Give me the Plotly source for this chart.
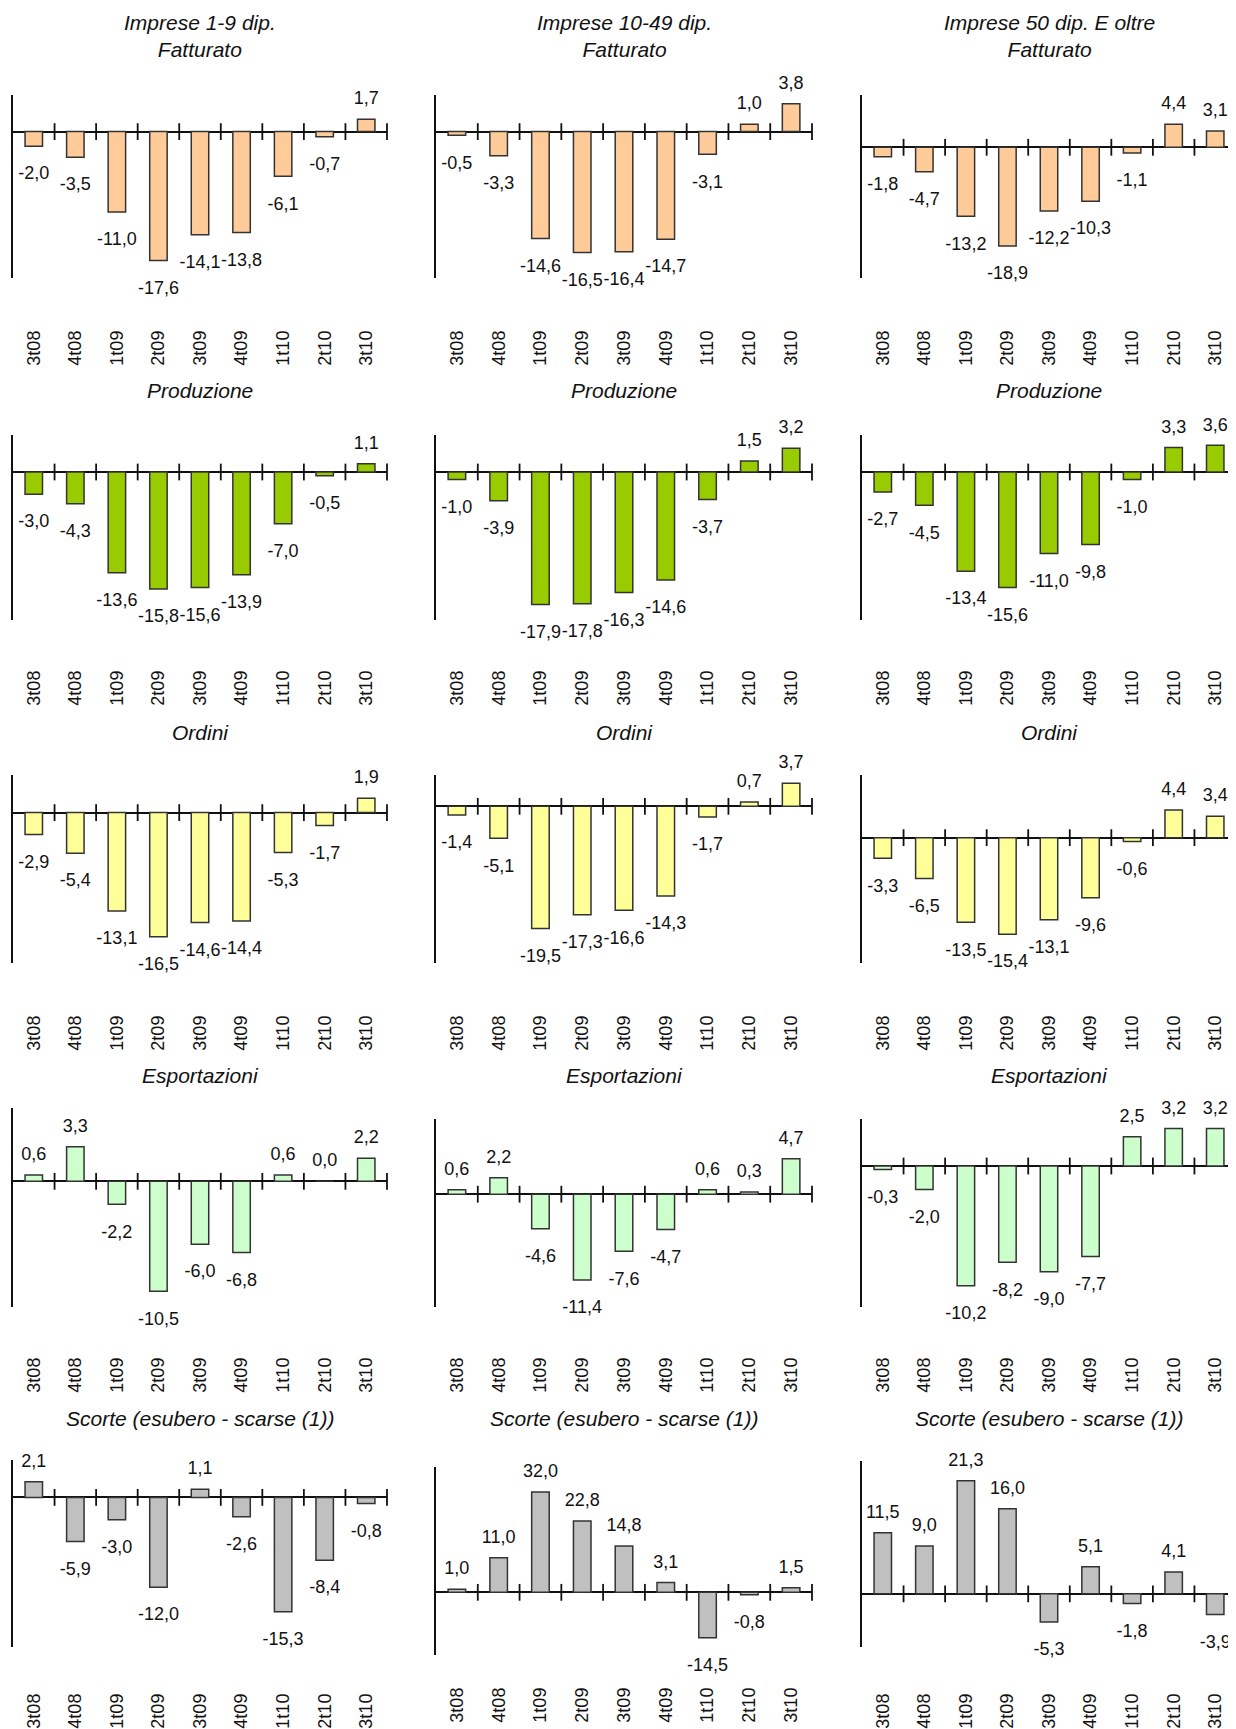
import plotly.graph_objects as go

# page is 1236x1729; browser body margin offsets the figure by 8px
OFF = 8
W, H = 1236 - OFF, 1729 - OFF

categories = ["3t08", "4t08", "1t09", "2t09", "3t09", "4t09", "1t10", "2t10", "3t10"]

group_titles = ["Imprese 1-9 dip.", "Imprese 10-49 dip.", "Imprese 50 dip. E oltre"]
row_titles = ["Fatturato", "Produzione", "Ordini", "Esportazioni", "Scorte (esubero - scarse (1))"]

fatturato_1_9 = [-2.0, -3.5, -11.0, -17.6, -14.1, -13.8, -6.1, -0.7, 1.7]
fatturato_10_49 = [-0.5, -3.3, -14.6, -16.5, -16.4, -14.7, -3.1, 1.0, 3.8]
fatturato_50 = [-1.8, -4.7, -13.2, -18.9, -12.2, -10.3, -1.1, 4.4, 3.1]

produzione_1_9 = [-3.0, -4.3, -13.6, -15.8, -15.6, -13.9, -7.0, -0.5, 1.1]
produzione_10_49 = [-1.0, -3.9, -17.9, -17.8, -16.3, -14.6, -3.7, 1.5, 3.2]
produzione_50 = [-2.7, -4.5, -13.4, -15.6, -11.0, -9.8, -1.0, 3.3, 3.6]

ordini_1_9 = [-2.9, -5.4, -13.1, -16.5, -14.6, -14.4, -5.3, -1.7, 1.9]
ordini_10_49 = [-1.4, -5.1, -19.5, -17.3, -16.6, -14.3, -1.7, 0.7, 3.7]
ordini_50 = [-3.3, -6.5, -13.5, -15.4, -13.1, -9.6, -0.6, 4.4, 3.4]

esportazioni_1_9 = [0.6, 3.3, -2.2, -10.5, -6.0, -6.8, 0.6, 0.0, 2.2]
esportazioni_10_49 = [0.6, 2.2, -4.6, -11.4, -7.6, -4.7, 0.6, 0.3, 4.7]
esportazioni_50 = [-0.3, -2.0, -10.2, -8.2, -9.0, -7.7, 2.5, 3.2, 3.2]

scorte_1_9 = [2.1, -5.9, -3.0, -12.0, 1.1, -2.6, -15.3, -8.4, -0.8]
scorte_10_49 = [1.0, 11.0, 32.0, 22.8, 14.8, 3.1, -14.5, -0.8, 1.5]
scorte_50 = [11.5, 9.0, 21.3, 16.0, -5.3, 5.1, -1.8, 4.1, -3.9]

rows_data = [
    [fatturato_1_9, fatturato_10_49, fatturato_50],
    [produzione_1_9, produzione_10_49, produzione_50],
    [ordini_1_9, ordini_10_49, ordini_50],
    [esportazioni_1_9, esportazioni_10_49, esportazioni_50],
    [scorte_1_9, scorte_10_49, scorte_50],
]

# y-axis ranges per panel
y_ranges = [
    [[-20, 5], [-20, 5], [-25, 10]],
    [[-20, 5], [-20, 5], [-20, 5]],
    [[-20, 5], [-25, 5], [-20, 10]],
    [[-12, 7], [-15, 10], [-12, 4]],
    [[-20, 5], [-20, 40], [-10, 25]],
]

# ---- styling / layout (page pixel positions) ----
row_colors = ["#FFCC99", "#99CC00", "#FFFF99", "#CCFFCC", "#C0C0C0"]
col_x = [(13, 387), (436, 812), (862, 1237)]
panel_y = [
    [(95, 278), (95, 278), (95, 278)],
    [(435, 620), (435, 620), (435, 620)],
    [(775, 963), (775, 963), (775, 963)],
    [(1108, 1307), (1119, 1307), (1119, 1307)],
    [(1460, 1647), (1467, 1655), (1461, 1647)],
]
label_top = [
    [328, 328, 328],
    [668, 668, 668],
    [1013, 1013, 1013],
    [1355, 1355, 1355],
    [1691, 1685, 1691],
]
title_y = [36, 390, 732, 1075, 1418]

FONT = "Liberation Sans, Arial, sans-serif"
NEG_PAD = 30   # invisible marker size used to push labels away from bar ends
POS_PAD = 15


def px_x(p):
    return min(max((p - OFF) / W, 0.0), 1.0)


def px_y(p):
    return min(max(1 - (p - OFF) / H, 0.0), 1.0)


def fmt(v):
    return f"{v:.1f}".replace(".", ",")


fig = go.Figure()
annotations = []
layout_axes = {}

idx = 0
for r in range(5):
    for c in range(3):
        idx += 1
        xa = "x" if idx == 1 else f"x{idx}"
        ya = "y" if idx == 1 else f"y{idx}"
        vals = rows_data[r][c]
        xs = list(range(len(categories)))
        fig.add_trace(go.Bar(
            x=xs, y=vals, xaxis=xa, yaxis=ya,
            width=0.42,
            marker=dict(color=row_colors[r], line=dict(color="#333333", width=1.5)),
            hoverinfo="skip",
            showlegend=False,
        ))
        # value labels
        fig.add_trace(go.Scatter(
            x=xs, y=vals, xaxis=xa, yaxis=ya,
            mode="markers+text",
            text=[fmt(v) for v in vals],
            textposition=["bottom center" if v < 0 else "top center" for v in vals],
            textfont=dict(family=FONT, size=18, color="#111111"),
            marker=dict(size=[NEG_PAD if v < 0 else POS_PAD for v in vals],
                        color="rgba(0,0,0,0)", line=dict(width=0)),
            cliponaxis=False,
            hoverinfo="skip",
            showlegend=False,
        ))
        # tick marks crossing the zero line, between categories
        fig.add_trace(go.Scatter(
            x=[i + 0.5 for i in range(len(categories))],
            y=[0] * len(categories),
            xaxis=xa, yaxis=ya,
            mode="markers",
            marker=dict(symbol="line-ns", size=12, line=dict(color="#111111", width=1.8)),
            cliponaxis=False,
            hoverinfo="skip",
            showlegend=False,
        ))
        x0, x1 = col_x[c]
        yt, yb = panel_y[r][c]
        xname = "xaxis" if idx == 1 else f"xaxis{idx}"
        yname = "yaxis" if idx == 1 else f"yaxis{idx}"
        layout_axes[xname] = dict(
            domain=[px_x(x0), px_x(x1)],
            range=[-0.5, len(categories) - 0.5],
            anchor="free",
            position=px_y(label_top[r][c] - 2),
            side="bottom",
            tickmode="array",
            tickvals=xs,
            ticktext=categories,
            tickangle=-90,
            ticks="",
            showline=False,
            showgrid=False,
            zeroline=False,
            tickfont=dict(family=FONT, size=18, color="#111111"),
            fixedrange=True,
        )
        layout_axes[yname] = dict(
            domain=[px_y(yb), px_y(yt)],
            range=y_ranges[r][c],
            anchor=xa,
            showline=True,
            linecolor="#111111",
            linewidth=2,
            showticklabels=False,
            ticks="",
            showgrid=False,
            zeroline=True,
            zerolinecolor="#111111",
            zerolinewidth=2,
            fixedrange=True,
        )
        # panel title
        if r == 0:
            ttext = f"{group_titles[c]}<br>{row_titles[r]}"
        else:
            ttext = row_titles[r]
        annotations.append(dict(
            text=ttext, xref="paper", yref="paper",
            x=(px_x(x0) + px_x(x1)) / 2, y=px_y(title_y[r]),
            xanchor="center", yanchor="middle", showarrow=False,
            font=dict(family=FONT, size=21, color="#111111", style="italic"),
        ))

fig.update_layout(
    width=W, height=H,
    margin=dict(l=0, r=0, t=0, b=0),
    paper_bgcolor="white",
    plot_bgcolor="rgba(0,0,0,0)",
    annotations=annotations,
    bargap=0.5,
    **layout_axes,
)

fig.write_html("out.html")
